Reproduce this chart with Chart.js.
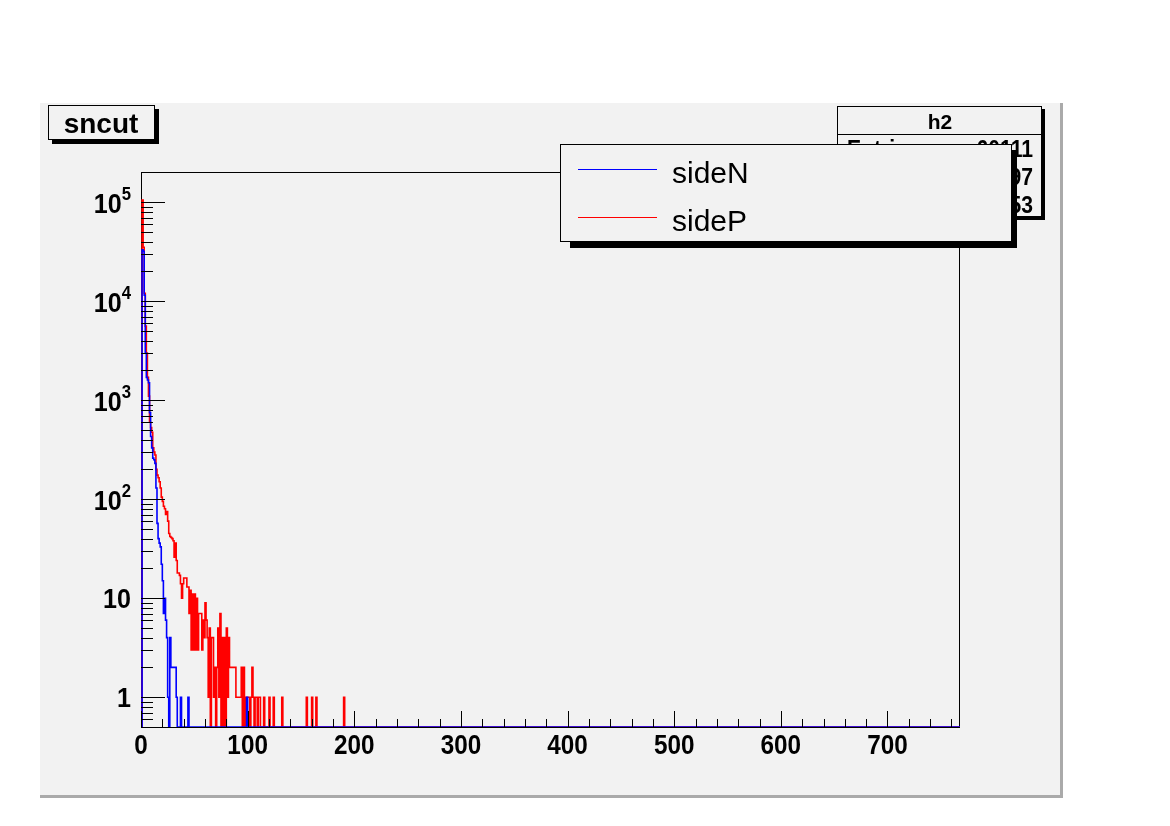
<!DOCTYPE html>
<html lang="en">
<head>
    <meta charset="UTF-8">
    <title>sncut</title>
    <script src="https://cdn.jsdelivr.net/npm/chart.js"></script>
    <style>
        html, body {
            margin: 0;
            padding: 0;
            background: #ffffff;
        }
    </style>
</head>
<body>
    <canvas id="myChart" width="1170" height="826"></canvas>

    <script>
        // histogram contents, one entry per bin of width 1 starting at 0 (rest of the 768 bins are empty)
        const nBins = 768;
        const sideN = [
            0, 33000, 32000, 11500, 3000, 1700, 1600, 1500, 750, 430,
            330, 260, 250, 230, 130, 57, 40, 36, 33, 22,
            15, 7, 10, 6, 4, 1, 0, 4, 2, 2,
            2, 2, 2, 1, 0, 0, 0, 1, 0, 0,
            0, 0, 0, 0, 1, 0, 0, 0, 0, 0,
            0, 0, 0, 0, 0, 0, 0, 0, 0, 0,
            0, 0, 0, 0, 0, 0, 0, 0, 0, 0,
            0, 0, 0, 0, 0, 0, 0, 0, 0, 0,
            0, 0, 0, 0, 0, 0, 0, 0, 0, 0,
            0, 0, 0, 0, 0, 0, 0, 0, 0, 1
        ];
        const sideP = [
            0, 105000, 35000, 12000, 5600, 3000, 1700, 1100, 600, 530,
            475, 330, 300, 280, 200, 175, 165, 150, 130, 105,
            95, 85, 80, 70, 75, 60, 45, 42, 41, 40,
            38, 26, 36, 24, 18, 18, 17, 14, 10, 14,
            16, 16, 16, 13, 13, 7, 12, 3, 11, 3,
            11, 3, 10, 3, 7, 7, 7, 3, 6, 4,
            9, 6, 4, 1, 5, 0, 4, 4, 1, 2,
            0, 2, 5, 1, 7, 0, 4, 0, 4, 0,
            5, 1, 4, 2, 2, 2, 2, 2, 2, 1,
            1, 1, 1, 1, 2, 0, 2, 0, 1, 1,
            1, 1, 0, 1, 2, 1, 0, 1, 1, 0,
            1, 1, 0, 0, 0, 1, 0, 0, 0, 0,
            1, 0, 0, 0, 1, 0, 0, 0, 0, 0,
            0, 0, 1, 0, 0, 0, 0, 0, 0, 0,
            0, 0, 0, 0, 0, 0, 0, 0, 0, 0,
            0, 0, 0, 0, 0, 1, 0, 0, 0, 0,
            1, 0, 0, 0, 1, 0, 0, 0, 0, 0,
            0, 0, 0, 0, 0, 0, 0, 0, 0, 0,
            0, 0, 0, 0, 0, 0, 0, 0, 0, 0,
            1
        ];
        const xMajor = [0, 100, 200, 300, 400, 500, 600, 700];
        const xMinorStep = 20;
        const yDecades = [1, 10, 100, 1000, 10000, 100000];
        const yMin = 0.5;
        const yMax = 2.02e5;
        const histTitle = 'sncut';
        const statsName = 'h2';
        const statsRows = [['Entries', '60111'], ['Mean', '1.997'], ['RMS', '3.653']];

        const PAD = '#f2f2f2';
        const FONT = '"Liberation Sans", Arial, Helvetica, sans-serif';

        // turn bin contents into points for a stepped line (empty bins drop to the axis floor)
        function histPoints(vals) {
            const pts = [{ x: 0, y: yMin }];
            vals.forEach((v, i) => pts.push({ x: i, y: v > 0 ? v : yMin }));
            pts.push({ x: vals.length, y: yMin });
            pts.push({ x: nBins, y: yMin });
            return pts;
        }

        function txt(ctx, s, x, y, font, align, sx) {
            ctx.save();
            ctx.font = font;
            ctx.textAlign = align;
            ctx.textBaseline = 'alphabetic';
            ctx.translate(x, y);
            ctx.scale(sx, 1);
            ctx.fillText(s, 0, 0);
            ctx.restore();
        }

        function shadowBox(ctx, x, y, w, h, off) {
            ctx.fillStyle = '#000000';
            ctx.fillRect(x + off, y + off, w, h);
            ctx.fillStyle = PAD;
            ctx.fillRect(x, y, w, h);
            ctx.strokeStyle = '#000000';
            ctx.lineWidth = 1;
            ctx.strokeRect(x + 0.5, y + 0.5, w - 1, h - 1);
        }

        const rootLook = {
            id: 'rootLook',
            beforeDraw(chart) {
                const ctx = chart.ctx;
                ctx.save();
                ctx.fillStyle = '#ffffff';
                ctx.fillRect(0, 0, chart.width, chart.height);
                ctx.fillStyle = '#aaaaaa';
                ctx.fillRect(40, 795, 1023, 3);
                ctx.fillRect(1060, 103, 3, 695);
                ctx.fillStyle = PAD;
                ctx.fillRect(40, 103, 1020, 692);
                ctx.restore();
            },
            beforeDatasetsDraw(chart) {
                const ctx = chart.ctx;
                const a = chart.chartArea;
                ctx.save();
                ctx.strokeStyle = '#000000';
                ctx.lineWidth = 1;
                ctx.strokeRect(a.left + 0.5, a.top + 0.5, a.right - a.left - 1, a.bottom - a.top);
                ctx.restore();
            },
            afterDatasetsDraw(chart) {
                const ctx = chart.ctx;
                const a = chart.chartArea;
                const xs = chart.scales.x;
                const ys = chart.scales.y;
                ctx.save();
                ctx.strokeStyle = '#000000';
                ctx.fillStyle = '#000000';
                ctx.lineWidth = 1;

                // x ticks
                ctx.beginPath();
                for (let v = 0; v <= nBins; v += xMinorStep) {
                    const px = Math.round(xs.getPixelForValue(v)) + 0.5;
                    const len = v % 100 === 0 ? 16 : 8;
                    ctx.moveTo(px, a.bottom);
                    ctx.lineTo(px, a.bottom - len);
                }
                // y ticks (log)
                yDecades.concat([0.1]).forEach(d => {
                    for (let k = 1; k <= 9; k++) {
                        const v = d * k;
                        if (v < yMin || v > yMax) continue;
                        const py = Math.round(ys.getPixelForValue(v)) + 0.5;
                        const len = k === 1 ? 24 : 12;
                        ctx.moveTo(a.left, py);
                        ctx.lineTo(a.left + len, py);
                    }
                });
                ctx.stroke();

                // x labels
                xMajor.forEach(v => {
                    txt(ctx, String(v), xs.getPixelForValue(v), 754, 'bold 27px ' + FONT, 'center', 0.9);
                });
                // y labels
                yDecades.forEach(v => {
                    const py = ys.getPixelForValue(v);
                    const e = Math.round(Math.log10(v));
                    if (e <= 1) {
                        txt(ctx, String(v), 131, py + 10, 'bold 27px ' + FONT, 'right', 0.93);
                    } else {
                        ctx.font = 'bold 18px ' + FONT;
                        const sw = ctx.measureText(String(e)).width * 0.93;
                        txt(ctx, String(e), 131, py - 2, 'bold 18px ' + FONT, 'right', 0.93);
                        txt(ctx, '10', 131 - sw, py + 11, 'bold 27px ' + FONT, 'right', 0.93);
                    }
                });

                // title box
                shadowBox(ctx, 48, 105, 107, 35, 4);
                ctx.fillStyle = '#000000';
                txt(ctx, histTitle, 101, 133, 'bold 28px ' + FONT, 'center', 1);

                // stats box
                shadowBox(ctx, 837, 106, 205, 111, 3);
                ctx.fillStyle = '#000000';
                ctx.beginPath();
                ctx.moveTo(837, 134.5);
                ctx.lineTo(1042, 134.5);
                ctx.stroke();
                txt(ctx, statsName, 940, 129, 'bold 21px ' + FONT, 'center', 1);
                statsRows.forEach((r, i) => {
                    const by = 157 + i * 28;
                    txt(ctx, r[0], 847, by, 'bold 23px ' + FONT, 'left', 0.92);
                    txt(ctx, r[1], 1033, by, 'bold 23px ' + FONT, 'right', 0.92);
                });

                // legend
                ctx.fillStyle = '#000000';
                ctx.fillRect(570, 150, 447, 98);
                ctx.fillStyle = PAD;
                ctx.fillRect(560, 144, 452, 98);
                ctx.strokeRect(560.5, 144.5, 451, 97);
                chart.data.datasets.forEach((ds, i) => {
                    const ly = 169.5 + i * 48;
                    ctx.strokeStyle = ds.borderColor;
                    ctx.beginPath();
                    ctx.moveTo(578, ly);
                    ctx.lineTo(657, ly);
                    ctx.stroke();
                    ctx.fillStyle = '#000000';
                    txt(ctx, ds.label, 672, ly + 13.5, '30px ' + FONT, 'left', 1);
                });
                ctx.restore();
            }
        };

        const data = {
            datasets: [{
                label: 'sideN',
                data: histPoints(sideN),
                borderColor: '#0000ff',
                borderWidth: 1.6,
                stepped: 'before',
                pointRadius: 0,
                fill: false
            }, {
                label: 'sideP',
                data: histPoints(sideP),
                borderColor: '#ff0000',
                borderWidth: 1.6,
                stepped: 'before',
                pointRadius: 0,
                fill: false
            }]
        };

        const config = {
            type: 'line',
            data: data,
            options: {
                responsive: false,
                animation: false,
                devicePixelRatio: 1,
                layout: {
                    padding: { left: 141, right: 210, top: 172, bottom: 99 }
                },
                plugins: {
                    legend: { display: false },
                    tooltip: { enabled: false }
                },
                scales: {
                    x: { type: 'linear', min: 0, max: nBins, display: false },
                    y: { type: 'logarithmic', min: yMin, max: yMax, display: false }
                }
            },
            plugins: [rootLook]
        };

        new Chart(document.getElementById('myChart'), config);
    </script>
</body>
</html>
